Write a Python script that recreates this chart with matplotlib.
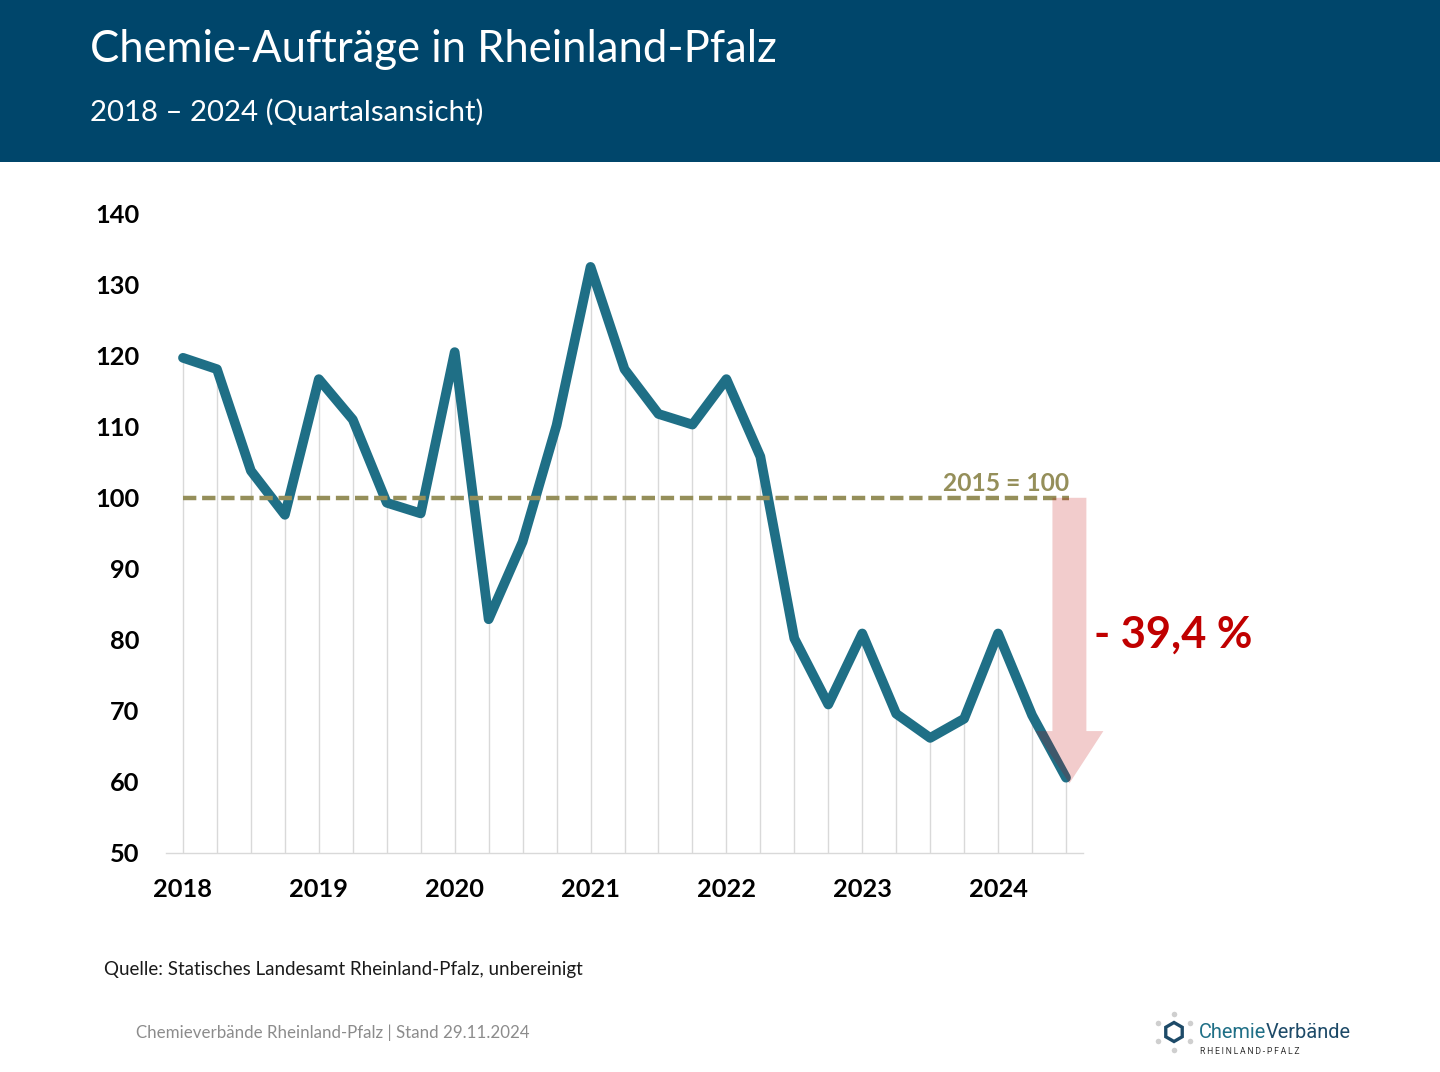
#!/usr/bin/env python3
"""Chemie-Auftraege in Rheinland-Pfalz, quarterly index 2018-2024."""

import matplotlib

matplotlib.use("Agg")
import matplotlib.pyplot as plt
from matplotlib.patches import Rectangle, RegularPolygon

WIDTH, HEIGHT = 1440, 1072

orders = [119.7, 118.1, 103.8, 97.6, 116.7, 111.0, 99.3, 97.8, 120.5, 82.9,
          93.8, 110.2, 132.5, 118.1, 111.8, 110.3, 116.7, 105.8, 80.2, 70.9,
          80.9, 69.6, 66.2, 68.9, 80.9, 69.4, 60.6]
year_labels = ["2018", "2019", "2020", "2021", "2022", "2023", "2024"]
y_ticks = [50, 60, 70, 80, 90, 100, 110, 120, 130, 140]
base_value = 100

TEAL = "#1F6F86"
OLIVE = "#958F5A"
NAVY = "#00466B"
RED = "#C00000"

plt.rcParams["font.family"] = ["Lato", "DejaVu Sans"]

fig = plt.figure(figsize=(WIDTH / 100, HEIGHT / 100), dpi=100)

# overlay in pixel coordinates for the slide furniture
slide = fig.add_axes([0, 0, 1, 1], zorder=0)
slide.set_xlim(0, WIDTH)
slide.set_ylim(HEIGHT, 0)
slide.axis("off")

slide.add_patch(Rectangle((0, 0), WIDTH, 162, color=NAVY, lw=0))
slide.text(90, 50, "Chemie-Aufträge in Rheinland-Pfalz", color="white",
           fontsize=31.4, va="center")
slide.text(90, 112, "2018 – 2024 (Quartalsansicht)", color="white",
           fontsize=21.2, va="center")
slide.text(104, 969, "Quelle: Statisches Landesamt Rheinland-Pfalz, unbereinigt",
           color="#1a1a1a", fontsize=13.5, va="center")
slide.text(136, 1033, "Chemieverbände Rheinland-Pfalz | Stand 29.11.2024",
           color="#8c8c8c", fontsize=12.15, va="center")

# logo
slide.add_patch(RegularPolygon((1174, 1032), 6, radius=9.5, fill=False,
                               edgecolor="#1D4A68", lw=2.4))
slide.scatter([1174, 1190, 1190, 1174, 1158, 1158],
              [1014, 1023, 1041, 1050, 1041, 1023],
              s=16, color="#CFCFCF", linewidths=0)
slide.text(1199, 1032, "Chemie", color=TEAL, family="Roboto", fontsize=14.4,
           va="center", ha="left")
slide.text(1351, 1032, "Verbände", color="#1D4A68", family="Roboto", fontsize=14.4,
           va="center", ha="right")
slide.text(1200, 1051, "\u2009".join("RHEINLAND-PFALZ"), color="#333333",
           family=["Roboto", "DejaVu Sans"], fontsize=6.2, va="center")

# chart
left, right, top, bottom = 166, 1083, 213.6, 853
ax = fig.add_axes([left / WIDTH, 1 - bottom / HEIGHT,
                   (right - left) / WIDTH, (bottom - top) / HEIGHT], zorder=1)
ax.patch.set_alpha(0)

x = list(range(len(orders)))
ax.vlines(x, y_ticks[0], orders, color="#D9D9D9", linewidth=1.0, zorder=1)
ax.plot(x, orders, color=TEAL, linewidth=7, solid_joinstyle="round",
        solid_capstyle="round", zorder=3)
ax.plot([0, 26.1], [base_value, base_value], color=OLIVE, linewidth=3.2,
        linestyle=(0, (3.0, 1.3)), zorder=4)
ax.text(26.08, base_value + 0.4, "2015 = 100", color=OLIVE, fontsize=17.7,
        fontweight="bold", ha="right", va="bottom")

# decline arrow, spans the base value down to the last quarter
arrow_x = 26.1
arrow_tip = 59.8
arrow_neck = 67.16
ax.fill([arrow_x - 0.5, arrow_x + 0.5, arrow_x + 0.5, arrow_x + 1.0,
         arrow_x, arrow_x - 1.0, arrow_x - 0.5],
        [base_value, base_value, arrow_neck, arrow_neck,
         arrow_tip, arrow_neck, arrow_neck],
        color=RED, alpha=0.2, linewidth=0, zorder=5, clip_on=False)
ax.text(26.82, 80.7, "- 39,4 %", color=RED, fontsize=31.2, fontweight="bold",
        ha="left", va="center", clip_on=False)

ax.set_xlim(-0.5, 26.5)
ax.set_ylim(y_ticks[0], y_ticks[-1])
ax.set_yticks(y_ticks)
ax.set_xticks(x[::4], year_labels)
ax.tick_params(length=0, labelsize=18.3, colors="black")
ax.tick_params(axis="x", pad=18)
ax.tick_params(axis="y", pad=19)
for label in ax.get_xticklabels() + ax.get_yticklabels():
    label.set_fontweight("bold")
for side in ["top", "right", "left"]:
    ax.spines[side].set_visible(False)
ax.spines["bottom"].set_color("#D9D9D9")
ax.spines["bottom"].set_linewidth(1.0)

fig.savefig("out.png", dpi=100)
plt.close(fig)
